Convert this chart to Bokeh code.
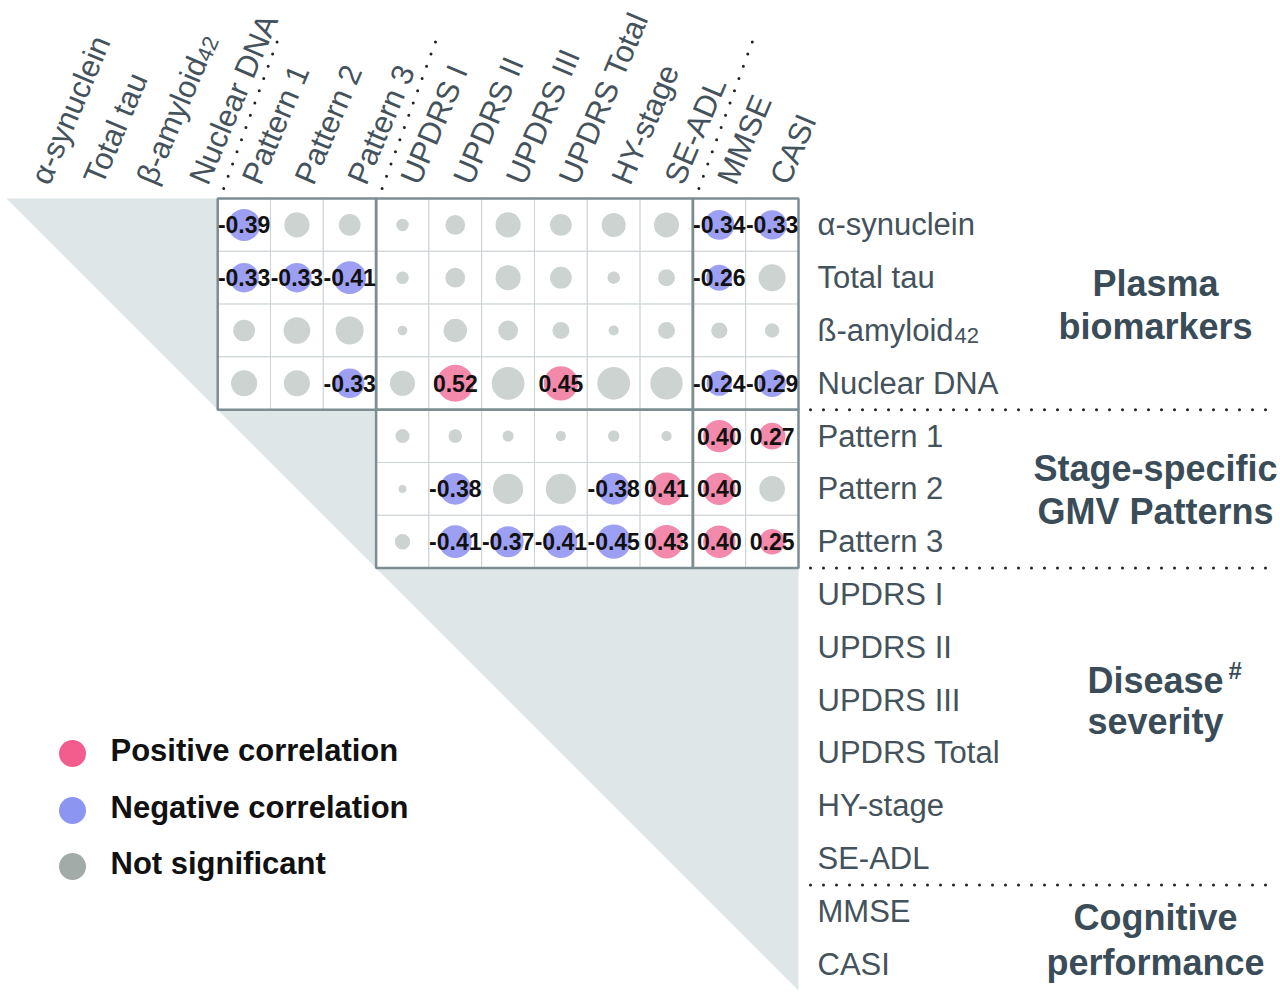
import math
from bokeh.plotting import figure
from bokeh.models import Range1d, ColumnDataSource
from bokeh.embed import file_html
from bokeh.resources import INLINE
from bokeh.core.properties import value

# ---------------- data ----------------
top_labels = ["α-synuclein", "Total tau", "β-amyloid", "Nuclear DNA", "Pattern 1", "Pattern 2",
              "Pattern 3", "UPDRS I", "UPDRS II", "UPDRS III", "UPDRS Total", "HY-stage",
              "SE-ADL", "MMSE", "CASI"]
row_labels = ["α-synuclein", "Total tau", "ß-amyloid", "Nuclear DNA", "Pattern 1", "Pattern 2",
              "Pattern 3", "UPDRS I", "UPDRS II", "UPDRS III", "UPDRS Total", "HY-stage",
              "SE-ADL", "MMSE", "CASI"]
subscript_index = 2
subscript_text = "42"

group_bounds = [0, 4, 7, 13, 15]
group_titles = [["Plasma", "biomarkers"], ["Stage-specific", "GMV Patterns"],
                ["Disease", "severity"], ["Cognitive", "performance"]]

# correlation columns: Pattern 1 ... CASI (variables 4..14)
r_alpha_synuclein = [-0.39, 0.24, 0.18, 0.06, 0.15, 0.24, 0.18, 0.22, 0.24, -0.34, -0.33]
r_total_tau       = [-0.33, -0.33, -0.41, 0.06, 0.15, 0.24, 0.18, 0.06, 0.11, -0.26, 0.28]
r_beta_amyloid    = [0.18, 0.27, 0.30, 0.035, 0.21, 0.15, 0.11, 0.04, 0.11, 0.10, 0.08]
r_nuclear_dna     = [0.26, 0.26, -0.33, 0.24, 0.52, 0.41, 0.45, 0.41, 0.40, -0.24, -0.29]
r_pattern1        = [None, None, None, 0.075, 0.07, 0.047, 0.04, 0.05, 0.04, 0.40, 0.27]
r_pattern2        = [None, None, None, 0.023, -0.38, 0.35, 0.35, -0.38, 0.41, 0.40, 0.25]
r_pattern3        = [None, None, None, 0.09, -0.41, -0.37, -0.41, -0.45, 0.43, 0.40, 0.25]

sig_alpha_synuclein = [1, 0, 0, 0, 0, 0, 0, 0, 0, 1, 1]
sig_total_tau       = [1, 1, 1, 0, 0, 0, 0, 0, 0, 1, 0]
sig_beta_amyloid    = [0, 0, 0, 0, 0, 0, 0, 0, 0, 0, 0]
sig_nuclear_dna     = [0, 0, 1, 0, 1, 0, 1, 0, 0, 1, 1]
sig_pattern1        = [0, 0, 0, 0, 0, 0, 0, 0, 0, 1, 1]
sig_pattern2        = [0, 0, 0, 0, 1, 0, 0, 1, 1, 1, 0]
sig_pattern3        = [0, 0, 0, 0, 1, 1, 1, 1, 1, 1, 1]

r_rows = [r_alpha_synuclein, r_total_tau, r_beta_amyloid, r_nuclear_dna,
          r_pattern1, r_pattern2, r_pattern3]
sig_rows = [sig_alpha_synuclein, sig_total_tau, sig_beta_amyloid, sig_nuclear_dna,
            sig_pattern1, sig_pattern2, sig_pattern3]
first_col = 4

legend_labels = ["Positive correlation", "Negative correlation", "Not significant"]

# ---------------- style ----------------
CELL = 52.8
FONT = "Liberation Sans"
TXT = "#44525c"
HEAD = "#3a4c58"
POS, NEG, NS = "#f48aab", "#9da0f2", "#cdd3d1"
LEG_COLORS = ["#f25d8e", "#8d95f2", "#a3aba8"]

W, H = 1280, 998
x0 = -6 / CELL
ytop = -198 / CELL
p = figure(width=W, height=H, output_backend="svg", toolbar_location=None,
           x_range=Range1d(x0, x0 + W / CELL), y_range=Range1d(ytop + H / CELL, ytop),
           min_border=0)
p.axis.visible = False
p.grid.visible = False
p.outline_line_color = None
p.background_fill_color = "white"

n = len(top_labels)
# triangle background
p.patch([0, n, n], [0, 0, n], fill_color="#dfe6e8", line_color=None)

# cells
cx, cy, cr, crad, ccol, clab, lx, ly = [], [], [], [], [], [], [], []
for i, (rr, ss) in enumerate(zip(r_rows, sig_rows)):
    for j, (r, s) in enumerate(zip(rr, ss)):
        if r is None:
            continue
        x = first_col + j + 0.5
        y = i + 0.5
        cx.append(x); cy.append(y); cr.append(r)
        crad.append(0.485 * math.sqrt(abs(r)))
        if s:
            ccol.append(POS if r > 0 else NEG)
            clab.append("%.2f" % r); lx.append(x); ly.append(y)
        else:
            ccol.append(NS)
src = ColumnDataSource(dict(x=cx, y=cy, r=cr, radius=crad, color=ccol))
p.rect("x", "y", width=1, height=1, source=src, fill_color="white",
       line_color="#cbd3d5", line_width=1)

# block borders
bl, br, bt, bb = [], [], [], []
for gi in range(2):
    for gj in range(gi + 1, 4):
        bl.append(group_bounds[gj]); br.append(group_bounds[gj + 1])
        bt.append(group_bounds[gi]); bb.append(group_bounds[gi + 1])
p.quad(left=bl, right=br, top=bt, bottom=bb, fill_color=None,
       line_color="#7d8e93", line_width=2.5)

p.circle("x", "y", radius="radius", source=src, fill_color="color", line_color=None)
p.text(lx, ly, text=clab, text_font=value(FONT), text_font_style="bold",
       text_font_size="23px", text_color="#111111", text_align="center",
       text_baseline="middle")

# top rotated labels
theta = math.radians(67)
tx = [k + 0.5 + 7 / CELL for k in range(n)]
ty = [-16 / CELL] * n
p.text(tx, ty, text=top_labels, angle=theta, text_font=value(FONT),
       text_font_size="31px", text_color=TXT, text_align="left",
       text_baseline="alphabetic")
adv = 135 / CELL
p.text([tx[subscript_index] + adv * math.cos(theta) + (5 / CELL) * math.sin(theta)],
       [ty[subscript_index] - adv * math.sin(theta) + (5 / CELL) * math.cos(theta)],
       text=[subscript_text], angle=theta, text_font=value(FONT), text_font_size="22px",
       text_color=TXT, text_align="left", text_baseline="alphabetic")

# dotted diagonal separators at top
phi = math.radians(70)
seg_x0 = [group_bounds[g] + 6 / CELL for g in (1, 2, 3)]
L = 166 / CELL
p.segment(x0=seg_x0, y0=[-10 / CELL] * 3,
          x1=[v + L * math.cos(phi) for v in seg_x0], y1=[-10 / CELL - L * math.sin(phi)] * 3,
          line_color="#222222", line_width=3, line_dash="0 13", line_cap="round")

# right labels
rx = n + 19 / CELL
p.text([rx] * n, [i + 0.5 for i in range(n)], text=row_labels, text_font=value(FONT),
       text_font_size="31px", text_color=TXT, text_align="left", text_baseline="middle")
p.text([rx + 137 / CELL], [subscript_index + 0.5 + 5 / CELL], text=[subscript_text],
       text_font=value(FONT), text_font_size="22px", text_color=TXT,
       text_align="left", text_baseline="middle")

# horizontal dotted separators
hy = group_bounds[1:4]
p.segment(x0=[n + 12 / CELL] * 3, y0=hy, x1=[n + 478 / CELL] * 3, y1=hy,
          line_color="#222222", line_width=3, line_dash="0 13", line_cap="round")

# group titles
gx = (1155 - 6) / CELL
title_y = [[1.61, 2.42], [5.11, 5.93], [9.13, 9.9], [13.62, 14.47]]
gtx, gty, gtt = [], [], []
for titles, ys in zip(group_titles, title_y):
    for t, yv in zip(titles, ys):
        gtx.append(gx); gty.append(yv); gtt.append(t)
p.text(gtx, gty, text=gtt, text_font=value(FONT), text_font_style="bold",
       text_font_size="36px", text_color=HEAD, text_align="center", text_baseline="middle")
p.text([gx + 73 / CELL], [9.13 - 10 / CELL], text=["#"], text_font=value(FONT),
       text_font_style="bold", text_font_size="24px", text_color=HEAD,
       text_align="left", text_baseline="middle")

# legend
leg_x = (72 - 6) / CELL
leg_y = [(753 - 198) / CELL, (810 - 198) / CELL, (866 - 198) / CELL]
p.circle([leg_x] * 3, leg_y, radius=13.5 / CELL, fill_color=LEG_COLORS, line_color=None)
p.text([(110 - 6) / CELL] * 3, [v - 3 / CELL for v in leg_y], text=legend_labels,
       text_font=value(FONT), text_font_style="bold", text_font_size="31px",
       text_color="#111111", text_align="left", text_baseline="middle")

open("out.html", "w").write(file_html(p, INLINE))
